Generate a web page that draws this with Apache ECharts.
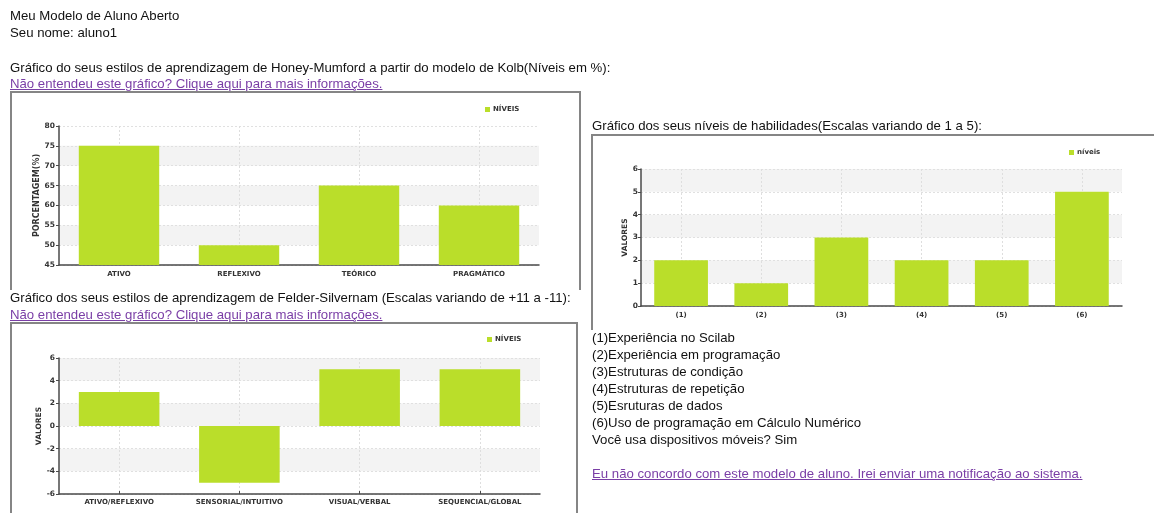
<!DOCTYPE html>
<html><head><meta charset="utf-8">
<script src="https://cdn.jsdelivr.net/npm/echarts@6/dist/echarts.min.js"></script>
<style>
html,body{margin:0;padding:0;width:1154px;height:513px;overflow:hidden;background:#fff;font-family:"Liberation Sans",Arial,sans-serif;font-size:13.2px;color:#111;}
.t{position:absolute;white-space:nowrap;line-height:16px;z-index:3;}
.a{color:#7a3ea6;text-decoration:underline;}
.box{position:absolute;border:2px solid #858585;border-bottom:none;z-index:1;}
#chart{position:absolute;left:0;top:0;width:1154px;height:513px;z-index:2;}
</style></head><body>
<div class="box" style="left:10px;top:91px;width:567px;height:197px"></div>
<div class="box" style="left:10px;top:322px;width:564px;height:200px"></div>
<div class="box" style="left:591px;top:134px;width:570px;height:194px"></div>
<div id="chart"></div>
<div class="t" style="left:10px;top:8px">Meu Modelo de Aluno Aberto</div>
<div class="t" style="left:10px;top:25px">Seu nome: aluno1</div>
<div class="t" style="left:10px;top:60px">Gráfico do seus estilos de aprendizagem de Honey-Mumford a partir do modelo de Kolb(Níveis em %):</div>
<div class="t a" style="left:10px;top:76px">Não entendeu este gráfico? Clique aqui para mais informações.</div>
<div class="t" style="left:10px;top:290px">Gráfico dos seus estilos de aprendizagem de Felder-Silvernam (Escalas variando de +11 a -11):</div>
<div class="t a" style="left:10px;top:307px">Não entendeu este gráfico? Clique aqui para mais informações.</div>
<div class="t" style="left:592px;top:118px">Gráfico dos seus níveis de habilidades(Escalas variando de 1 a 5):</div>
<div class="t" style="left:592px;top:330px">(1)Experiência no Scilab</div>
<div class="t" style="left:592px;top:347px">(2)Experiência em programação</div>
<div class="t" style="left:592px;top:364px">(3)Estruturas de condição</div>
<div class="t" style="left:592px;top:381px">(4)Estruturas de repetição</div>
<div class="t" style="left:592px;top:398px">(5)Esruturas de dados</div>
<div class="t" style="left:592px;top:415px">(6)Uso de programação em Cálculo Numérico</div>
<div class="t" style="left:592px;top:432px">Você usa dispositivos móveis? Sim</div>
<div class="t a" style="left:592px;top:466px">Eu não concordo com este modelo de aluno. Irei enviar uma notificação ao sistema.</div>
<script>
const kolbCategories = ['ATIVO', 'REFLEXIVO', 'TEÓRICO', 'PRAGMÁTICO'];
const kolbValues = [75, 50, 65, 60];
const kolbAxis = [45, 80, 5];

const felderCategories = ['ATIVO/REFLEXIVO', 'SENSORIAL/INTUITIVO', 'VISUAL/VERBAL', 'SEQUENCIAL/GLOBAL'];
const felderValues = [3, -5, 5, 5];
const felderAxis = [-6, 6, 2];

const skillCategories = ['(1)', '(2)', '(3)', '(4)', '(5)', '(6)'];
const skillValues = [2, 1, 3, 2, 2, 5];
const skillAxis = [0, 6, 1];

const BAR = '#bade2a';
const AX = '#4a4a4a';
const small = {fontSize: 7, fontWeight: 'bold', color: '#333', fontFamily: 'DejaVu Sans'};

function catAxis(gridIndex, data, margin) {
  return {
    type: 'category', gridIndex, data,
    axisLine: {onZero: false, lineStyle: {color: AX, width: 1.5}},
    axisTick: {show: true, alignWithLabel: true, inside: true, length: 3, lineStyle: {color: AX}},
    axisLabel: Object.assign({margin, interval: 0}, small),
    splitLine: {show: true, alignWithLabel: true, lineStyle: {color: '#dedede', type: [2, 2]}}
  };
}
function valAxis(gridIndex, ax, name, nameGap, margin, nameSize) {
  return {
    type: 'value', gridIndex, min: ax[0], max: ax[1], interval: ax[2],
    name, nameLocation: 'middle', nameRotate: 90, nameGap,
    nameTextStyle: Object.assign({}, small, {fontSize: nameSize}),
    axisLine: {show: true, lineStyle: {color: AX, width: 1.5}},
    axisTick: {show: true, length: 3, lineStyle: {color: AX}},
    axisLabel: Object.assign({margin}, small, {fontSize: 7.5}),
    splitLine: {show: true, lineStyle: {color: '#e0e0e0', type: [2, 2]}},
    splitArea: {show: true, areaStyle: {color: ['rgba(255,255,255,0)', '#f3f3f3']}}
  };
}
function legend(name, left, top) {
  return {data: [name], left, top, icon: 'rect', itemWidth: 5, itemHeight: 5, itemGap: 4,
    textStyle: Object.assign({}, small, {padding: [0, 0, 0, -2]}), selectedMode: false};
}

const chart = echarts.init(document.getElementById('chart'), null, {renderer: 'canvas'});
chart.setOption({
  animation: false,
  backgroundColor: 'transparent',
  grid: [
    {left: 59, top: 126, width: 480, height: 139},
    {left: 59, top: 358, width: 481, height: 136},
    {left: 641, top: 169, width: 481, height: 137}
  ],
  legend: [
    legend('NÍVEIS', 480, 101),
    legend('NÍVEIS', 482, 331),
    legend('níveis', 1064, 144)
  ],
  xAxis: [
    catAxis(0, kolbCategories, 6),
    catAxis(1, felderCategories, 5),
    catAxis(2, skillCategories, 6)
  ],
  yAxis: [
    valAxis(0, kolbAxis, 'PORCENTAGEM(%)', 18, 4, 8),
    valAxis(1, felderAxis, 'VALORES', 13, 4, 7.5),
    valAxis(2, skillAxis, 'VALORES', 8, 3, 7.5)
  ],
  series: [
    {type: 'bar', name: 'NÍVEIS', xAxisIndex: 0, yAxisIndex: 0, data: kolbValues, barWidth: '67%', itemStyle: {color: BAR}},
    {type: 'bar', name: 'NÍVEIS', xAxisIndex: 1, yAxisIndex: 1, data: felderValues, barWidth: '67%', itemStyle: {color: BAR}},
    {type: 'bar', name: 'níveis', xAxisIndex: 2, yAxisIndex: 2, data: skillValues, barWidth: '67%', itemStyle: {color: BAR}}
  ]
});
</script>
</body></html>
